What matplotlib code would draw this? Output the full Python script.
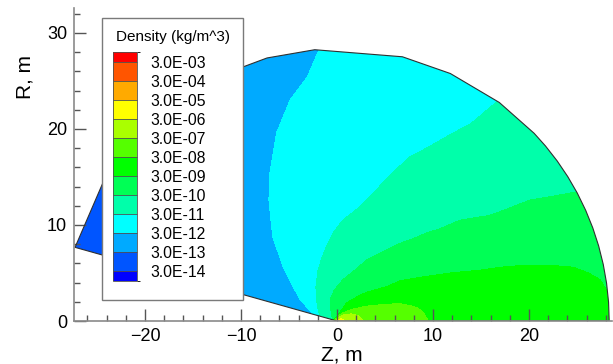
import numpy as np
import matplotlib
matplotlib.use("Agg")
import matplotlib.pyplot as plt
import matplotlib.tri as mtri
from matplotlib.colors import ListedColormap, BoundaryNorm
from matplotlib.patches import Polygon, Rectangle
from matplotlib.ticker import MultipleLocator
from matplotlib.cm import ScalarMappable

plt.rcParams['font.family'] = ['Liberation Sans', 'DejaVu Sans']

# ---------------- data ----------------
level_density = [3e-14, 3e-13, 3e-12, 3e-11, 3e-10, 3e-9, 3e-8,
                 3e-7, 3e-6, 3e-5, 3e-4, 3e-3]
level_labels = ['3.0E-14', '3.0E-13', '3.0E-12', '3.0E-11', '3.0E-10',
                '3.0E-09', '3.0E-08', '3.0E-07', '3.0E-06', '3.0E-05',
                '3.0E-04', '3.0E-03']
band_colors = ['#0000ff', '#0055ff', '#00aaff', '#00ffff', '#00ffaa',
               '#00ff55', '#00ff00', '#55ff00', '#aaff00', '#ffff00',
               '#ffaa00', '#ff5500', '#ff0000']

# computational domain: outer boundary vertices (polar angle from +Z axis)
domain_radius = 28.35
boundary_phi_deg = [0, 4, 8, 12, 16, 20, 24, 28, 32, 36, 40, 43.6, 53.4,
                    65.4, 76.1, 94.7, 104.9, 116, 127, 138, 149, 164.3]
origin_log_density = -5.0

# isoline samples (Z, R), density equal to the level
iso_3e6_Z = [0.8, 0.45, 0.1]
iso_3e6_R = [0.0, 0.22, 0.15]
iso_3e7_Z = [2.8, 2.2, 1.5, 0.7, 0.15]
iso_3e7_R = [0.0, 0.55, 0.75, 0.65, 0.35]
iso_3e8_Z = [9.5, 9.0, 8.3, 7.6, 6.6, 5.2, 3.1, 1.5, 0.5, 0.1]
iso_3e8_R = [0.0, 0.9, 1.4, 1.6, 1.8, 1.75, 1.55, 1.2, 0.8, 0.5]
iso_3e9_Z = [28.25, 27.4, 26.2, 24.6, 22.2, 19.5, 17.0, 14.9, 11.8, 9.0,
             6.6, 5.2, 3.1, 2.4, 1.0, 0.3, 0.0]
iso_3e9_R = [2.9, 4.3, 5.0, 5.6, 5.8, 5.8, 5.6, 5.3, 5.0, 4.6,
             4.2, 3.6, 3.0, 2.7, 1.9, 0.9, 0.45]
iso_3e10_Z = [25.0, 22.5, 20.1, 17.8, 15.9, 12.8, 10.7, 9.4, 8.0, 6.6,
              4.8, 3.1, 2.0, 0.6, -0.3, -0.7, -0.7, -0.55, -0.48]
iso_3e10_R = [13.45, 13.0, 12.6, 11.7, 11.0, 10.5, 9.6, 9.2, 8.6, 8.1,
              7.2, 6.4, 5.4, 4.3, 3.2, 2.3, 1.4, 0.6, 0.14]
iso_3e11_Z = [16.75, 14.0, 11.4, 9.5, 7.6, 5.5, 3.4, 2.0, 0.6, -0.4,
              -1.0, -1.6, -2.0, -2.2, -2.15, -2.0, -1.8]
iso_3e11_R = [22.93, 20.6, 19.2, 18.1, 17.1, 15.2, 12.9, 11.6, 10.5, 9.2,
              8.0, 6.5, 5.2, 3.6, 2.3, 1.4, 0.52]
iso_3e12_Z = [-1.85, -3.1, -4.9, -6.3, -7.0, -7.1, -6.7, -5.6, -4.8, -3.9, -2.5]
iso_3e12_R = [28.34, 25.4, 23.0, 19.6, 15.4, 12.6, 8.75, 5.6, 4.0, 2.3, 0.71]
iso_3e13_Z = [-21.1, -19.0, -17.5, -16.4]
iso_3e13_R = [19.0, 14.0, 9.5, 4.62]

# samples on the outer edge (just outside the boundary arc)
arc_sample_r = 29.0
arc_phi_deg = [0, 3, 6, 10, 15, 20, 25, 28, 33, 40, 47, 54, 62, 70, 78, 86,
               94, 102, 110, 118, 126, 132, 138, 145, 152, 159, 166]
arc_log_density = [-8.37, -8.45, -8.55, -8.75, -8.95, -9.1, -9.3, -9.5,
                   -9.7, -10.0, -10.25, -10.54, -10.8, -11.0, -11.2, -11.35,
                   -11.54, -11.7, -11.9, -12.05, -12.2, -12.35, -12.52,
                   -12.65, -12.75, -12.85, -12.95]
# samples just outside the wake edge
wake_sample_phi_deg = 167.0
wake_r = [1.2, 2.2, 4.0, 8.0, 12.0, 17.0, 22.0]
wake_log_density = [-10.0, -11.0, -11.65, -11.9, -12.15, -12.52, -12.7]
# samples on the symmetry axis
axis_Z = [14.0, 19.0, 24.0]
axis_log_density = [-7.75, -7.98, -8.18]

# ---------------- assemble field ----------------
iso_sets = [(iso_3e6_Z, iso_3e6_R, 3e-6), (iso_3e7_Z, iso_3e7_R, 3e-7),
            (iso_3e8_Z, iso_3e8_R, 3e-8), (iso_3e9_Z, iso_3e9_R, 3e-9),
            (iso_3e10_Z, iso_3e10_R, 3e-10), (iso_3e11_Z, iso_3e11_R, 3e-11),
            (iso_3e12_Z, iso_3e12_R, 3e-12), (iso_3e13_Z, iso_3e13_R, 3e-13)]
Zs, Rs, Vs = [0.0], [0.0], [origin_log_density]
for zz, rr, lev in iso_sets:
    Zs += list(zz); Rs += list(rr); Vs += [np.log10(lev)] * len(zz)
ap = np.radians(arc_phi_deg)
Zs += list(arc_sample_r * np.cos(ap)); Rs += list(arc_sample_r * np.sin(ap))
Vs += arc_log_density
wp = np.radians(wake_sample_phi_deg)
Zs += list(np.array(wake_r) * np.cos(wp)); Rs += list(np.array(wake_r) * np.sin(wp))
Vs += wake_log_density
Zs += axis_Z; Rs += [0.0] * len(axis_Z); Vs += axis_log_density

log_levels = list(np.log10(level_density))
bounds = [-30.0] + log_levels + [5.0]

bp = np.radians(boundary_phi_deg)
boundary_xy = np.vstack([[0.0, 0.0],
                         np.column_stack([domain_radius * np.cos(bp),
                                          domain_radius * np.sin(bp)])])

# ---------------- figure ----------------
fig = plt.figure(figsize=(6.13, 3.64), dpi=100)
ax = fig.add_axes([0.12072, 0.11813, 0.87700, 0.85989])
ax.set_xlim(-27.4, 28.6)
ax.set_ylim(0, 32.6)

tri = mtri.Triangulation(Zs, Rs)
cs = ax.tricontourf(tri, Vs, levels=bounds, colors=band_colors)
clip = Polygon(boundary_xy, closed=True, transform=ax.transData)
cs.set_clip_path(clip)
ax.add_patch(Polygon(boundary_xy, closed=True, fill=False,
                     edgecolor='#303030', linewidth=0.8, zorder=3))

for s in ['top', 'right']:
    ax.spines[s].set_visible(False)
for s in ['left', 'bottom']:
    ax.spines[s].set_color('#8a8a8a')
    ax.spines[s].set_linewidth(1.2)
    ax.spines[s].set_zorder(4)
ax.xaxis.set_major_locator(MultipleLocator(10))
ax.xaxis.set_minor_locator(MultipleLocator(2))
ax.yaxis.set_major_locator(MultipleLocator(10))
ax.yaxis.set_minor_locator(MultipleLocator(2))
ax.tick_params(which='both', direction='in', color='#555555', width=1.0,
               labelsize=13, pad=5)
ax.tick_params(which='major', length=8.6)
ax.tick_params(which='minor', length=4.3)

ax.set_xlabel('Z, m', fontsize=15)
ax.set_ylabel('R, m', fontsize=15)
ax.xaxis.set_label_coords(0.4985, -0.108)
ax.yaxis.set_label_coords(-0.0915, 0.78)
ax.xaxis.label.set_va('center')
ax.yaxis.label.set_va('center')

# ---------------- legend ----------------
box = Rectangle((0.1659, 0.1758), 0.2310, 0.7756, transform=fig.transFigure,
                facecolor='white', edgecolor='#7a7a7a', linewidth=1.0, zorder=5)
fig.add_artist(box)
fig.text(0.283, 0.899, 'Density (kg/m^3)', fontsize=11, ha='center',
         va='center', zorder=11)

cax = fig.add_axes([0.1849, 0.228, 0.0382, 0.6283])
cax.set_zorder(10)
cb_bounds = [log_levels[0] - 0.5] + log_levels + [log_levels[-1] + 0.5]
cmap = ListedColormap(band_colors)
norm = BoundaryNorm(cb_bounds, cmap.N)
cb = fig.colorbar(ScalarMappable(norm=norm, cmap=cmap), cax=cax,
                  spacing='proportional', ticks=log_levels, drawedges=True)
cb.set_ticklabels(level_labels)
cb.ax.tick_params(length=0, labelsize=11.3, pad=9.5)
cb.outline.set_edgecolor('#505050')
cb.outline.set_linewidth(0.6)
cb.dividers.set_color('#505050')
cb.dividers.set_linewidth(0.6)

fig.savefig('out.png', dpi=100)
